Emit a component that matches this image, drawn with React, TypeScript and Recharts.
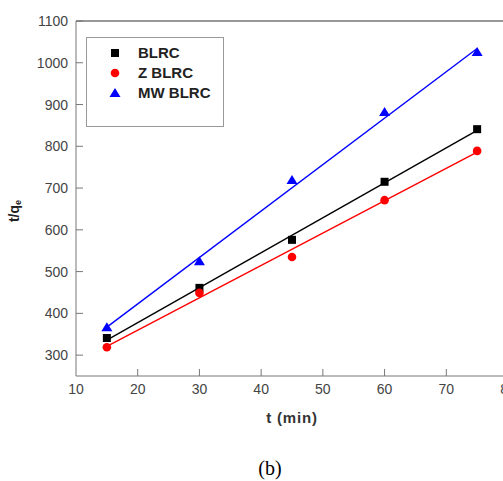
import React from 'react';
import { ComposedChart, Scatter, XAxis, YAxis, ReferenceLine } from 'recharts';

const times = [15, 30, 45, 60, 75];
const blrc = [341, 461, 576, 715, 841];
const zBlrc = [319, 449, 535, 671, 789];
const mwBlrc = [367, 525, 719, 882, 1026];

const fitTimes = [15, 75];
const blrcFit = [336, 838];
const zBlrcFit = [321, 786];
const mwBlrcFit = [367, 1034];

const xTicks = [10, 20, 30, 40, 50, 60, 70, 80];
const yTicks = [300, 400, 500, 600, 700, 800, 900, 1000, 1100];

const seriesNames = ['BLRC', 'Z BLRC', 'MW BLRC'];
const seriesColors = ['#000000', '#ff0000', '#0000ff'];
const seriesShapes = ['square', 'circle', 'triangle'];

const toPoints = (xs: number[], ys: number[]) => xs.map((x, i) => ({ x, y: ys[i] }));

const Marker = ({ kind, cx, cy, color }: { kind: string; cx: number; cy: number; color: string }) => {
  if (kind === 'square') return <rect x={cx - 4} y={cy - 4} width={8} height={8} fill={color} />;
  if (kind === 'circle') return <circle cx={cx} cy={cy} r={4.3} fill={color} />;
  return <polygon points={`${cx},${cy - 5} ${cx - 5.5},${cy + 4} ${cx + 5.5},${cy + 4}`} fill={color} />;
};

const makeShape = (kind: string, color: string) => (props: any) => {
  const { cx, cy } = props;
  if (cx == null || cy == null) return <g />;
  return <Marker kind={kind} cx={cx} cy={cy} color={color} />;
};

const noShape = () => <g />;

const YTick = (props: any) => {
  const { x, y, payload } = props;
  return (
    <g>
      <line x1={x + 8} x2={x + 15} y1={y} y2={y} stroke="#777" strokeWidth={1} />
      <text x={x} y={y} dy={5} textAnchor="end" fontSize={14} fill="#444" fontFamily="Liberation Sans, Arial, sans-serif">
        {payload.value}
      </text>
    </g>
  );
};

const XTick = (props: any) => {
  const { x, y, payload } = props;
  return (
    <g>
      {payload.value !== 10 && <line x1={x} x2={x} y1={y - 7} y2={y - 14} stroke="#777" strokeWidth={1} />}
      <text x={x} y={y} dy={11} textAnchor="middle" fontSize={14} fill="#444" fontFamily="Liberation Sans, Arial, sans-serif">
        {payload.value}
      </text>
    </g>
  );
};

const LegendBox = () => (
  <div
    style={{
      position: 'absolute',
      left: 86,
      top: 37,
      width: 138,
      height: 90,
      border: '1px solid #999',
      boxSizing: 'border-box',
      background: '#fff',
    }}
  >
    {seriesNames.map((name, i) => (
      <div key={name} style={{ position: 'absolute', left: 0, top: 5 + i * 20, height: 20, width: 136 }}>
        <svg width={20} height={20} style={{ position: 'absolute', left: 18, top: 0 }}>
          <Marker kind={seriesShapes[i]} cx={10} cy={10} color={seriesColors[i]} />
        </svg>
        <span
          style={{
            position: 'absolute',
            left: 51,
            top: 1,
            fontFamily: 'Liberation Sans, Arial, sans-serif',
            fontWeight: 'bold',
            fontSize: 15,
            color: '#222',
            lineHeight: '18px',
            whiteSpace: 'nowrap',
          }}
        >
          {name}
        </span>
      </div>
    ))}
  </div>
);

export default function App() {
  const pts = [toPoints(times, blrc), toPoints(times, zBlrc), toPoints(times, mwBlrc)];
  const fits = [toPoints(fitTimes, blrcFit), toPoints(fitTimes, zBlrcFit), toPoints(fitTimes, mwBlrcFit)];
  return (
    <div style={{ position: 'absolute', left: 0, top: 0, width: 503, height: 481, overflow: 'hidden', background: '#fff' }}>
      <ComposedChart width={530} height={481} margin={{ top: 21, right: 22, bottom: 75, left: 0 }}>
        <XAxis
          type="number"
          dataKey="x"
          domain={[10, 80]}
          ticks={xTicks}
          allowDataOverflow
          stroke="#777"
          tickSize={0}
          tickMargin={7}
          tick={<XTick />}
          height={30}
          axisLine={{ stroke: '#777' }}
        />
        <YAxis
          type="number"
          dataKey="y"
          domain={[250, 1100]}
          ticks={yTicks}
          allowDataOverflow
          tickSize={0}
          tickMargin={8}
          tick={<YTick />}
          width={76}
          axisLine={{ stroke: '#777' }}
        />
        <ReferenceLine y={1100} stroke="#333" strokeWidth={1.2} ifOverflow="visible" />
        <ReferenceLine x={80} stroke="#333" strokeWidth={1.2} ifOverflow="visible" />
        {fits.map((f, i) => (
          <Scatter
            key={'fit' + i}
            data={f}
            line={{ stroke: seriesColors[i], strokeWidth: 1.4 }}
            shape={noShape}
            isAnimationActive={false}
            legendType="none"
          />
        ))}
        {pts.map((p, i) => (
          <Scatter
            key={'pts' + i}
            name={seriesNames[i]}
            data={p}
            fill={seriesColors[i]}
            shape={makeShape(seriesShapes[i], seriesColors[i])}
            isAnimationActive={false}
          />
        ))}
        <text x={14} y={211} transform="rotate(-90 14 211)" textAnchor="middle" dominantBaseline="central" fontFamily="Liberation Sans, Arial, sans-serif" fontWeight="bold" fontSize={14} fill="#222">
          t/q<tspan fontSize={9} dy={4}>e</tspan>
        </text>
        <text x={292} y={423} textAnchor="middle" fontFamily="Liberation Sans, Arial, sans-serif" fontWeight="bold" fontSize={15} fill="#333" letterSpacing={0.8}>
          t (min)
        </text>
      </ComposedChart>
      <LegendBox />
      <div
        style={{
          position: 'absolute',
          left: 0,
          width: 540,
          top: 457,
          textAlign: 'center',
          fontFamily: 'Liberation Serif, Times New Roman, serif',
          fontSize: 20,
          lineHeight: '22px',
          color: '#000',
        }}
      >
        (b)
      </div>
    </div>
  );
}
